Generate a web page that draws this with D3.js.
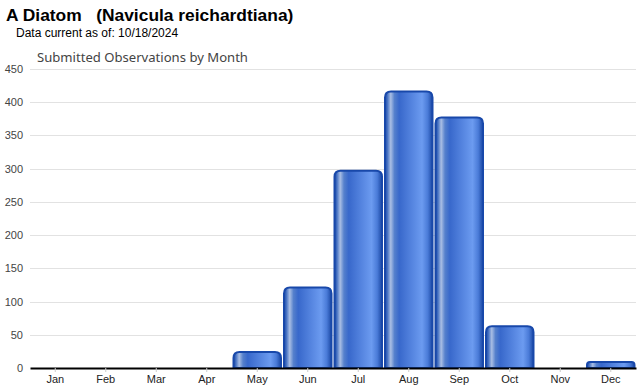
<!DOCTYPE html>
<html lang="en">
<head>
<meta charset="UTF-8">
<title>Submitted Observations by Month</title>
<script src="https://d3js.org/d3.v7.min.js"></script>
<style>
  body { margin: 0; background: #fff; }
  svg { display: block; font-family: "Liberation Sans", Arial, sans-serif; }
</style>
</head>
<body>
<svg id="chart" width="640" height="390"></svg>
<script>
    // Monthly counts
    const months = ["Jan", "Feb", "Mar", "Apr", "May", "Jun", "Jul", "Aug", "Sep", "Oct", "Nov", "Dec"];
    const counts = [0, 0, 0, 0, 24, 121, 297, 416, 377, 63, 0, 9];
    const yTicks = [0, 50, 100, 150, 200, 250, 300, 350, 400, 450];

    const svg = d3.select("#chart");
    const margin = { top: 69, right: 4, bottom: 22, left: 30 };
    const width = +svg.attr("width");
    const height = +svg.attr("height");

    const x = d3.scaleBand()
        .domain(months)
        .range([margin.left, width - margin.right])
        .padding(0);

    const y = d3.scaleLinear()
        .domain([0, 450])
        .range([height - margin.bottom, margin.top]);

    // bar gradient: dark edges, pale streak on the left, lighter toward the right
    const grad = svg.append("defs").append("linearGradient")
        .attr("id", "barFill")
        .attr("x1", "0%").attr("x2", "100%").attr("y1", "0%").attr("y2", "0%");
    [
        [0, "#1a47a3"], [0.05, "#4571c2"], [0.12, "#a9bee4"], [0.2, "#5580cc"],
        [0.3, "#3868cb"], [0.78, "#6c9bf0"], [0.9, "#4a7bd8"], [1, "#1a47a3"]
    ].forEach(([o, c]) => grad.append("stop").attr("offset", o).attr("stop-color", c));

    // titles
    svg.append("text").attr("x", 6).attr("y", 21)
        .style("font-size", "17.4px").style("font-weight", "bold").attr("fill", "#000")
        .attr("xml:space", "preserve")
        .text("A Diatom   (Navicula reichardtiana)");
    svg.append("text").attr("x", 16).attr("y", 37)
        .style("font-size", "12px").attr("fill", "#000")
        .text("Data current as of: 10/18/2024");
    svg.append("text").attr("x", 37).attr("y", 62)
        .style("font-family", "'Noto Sans', sans-serif")
        .style("font-size", "13.1px").attr("fill", "#444")
        .text("Submitted Observations by Month");

    // gridlines
    svg.append("g")
        .selectAll("line")
        .data(yTicks.filter(d => d > 0))
        .join("line")
        .attr("x1", margin.left).attr("x2", width - margin.right)
        .attr("y1", d => Math.round(y(d)) + 0.5).attr("y2", d => Math.round(y(d)) + 0.5)
        .attr("stroke", "#e2e2e2");

    // y labels
    svg.append("g")
        .selectAll("text")
        .data(yTicks)
        .join("text")
        .attr("x", 23)
        .attr("y", d => y(d) + 4)
        .attr("text-anchor", "end")
        .style("font-size", "11px")
        .attr("fill", "#444")
        .text(d => d);

    // bars with rounded tops
    const r = 6;
    svg.append("g")
        .selectAll("path")
        .data(counts.map((v, i) => ({ m: months[i], v })).filter(d => d.v > 0))
        .join("path")
        .attr("d", d => {
            const x0 = x(d.m) + 1.5, x1 = x(d.m) + x.bandwidth() - 1.5;
            const y0 = y(0), y1 = y(d.v);
            const rr = Math.min(r, (y0 - y1) / 2);
            return `M${x0},${y0} L${x0},${y1 + rr} Q${x0},${y1} ${x0 + rr},${y1}
                    L${x1 - rr},${y1} Q${x1},${y1} ${x1},${y1 + rr} L${x1},${y0} Z`;
        })
        .attr("fill", "url(#barFill)")
        .attr("stroke", "#1848aa")
        .attr("stroke-width", 2);

    // x axis
    const xAxis = svg.append("g")
        .attr("transform", `translate(0,${y(0)})`)
        .call(d3.axisBottom(x).tickSize(4).tickSizeOuter(0));
    xAxis.select(".domain").attr("stroke", "#000").attr("stroke-width", 2);
    xAxis.selectAll(".tick line").attr("stroke", "#ccc");
    xAxis.selectAll(".tick text")
        .attr("dy", "0.71em")
        .attr("y", 7)
        .style("font-size", "11px")
        .style("font-family", "'Liberation Sans', Arial, sans-serif")
        .attr("fill", "#222");
</script>
</body>
</html>
